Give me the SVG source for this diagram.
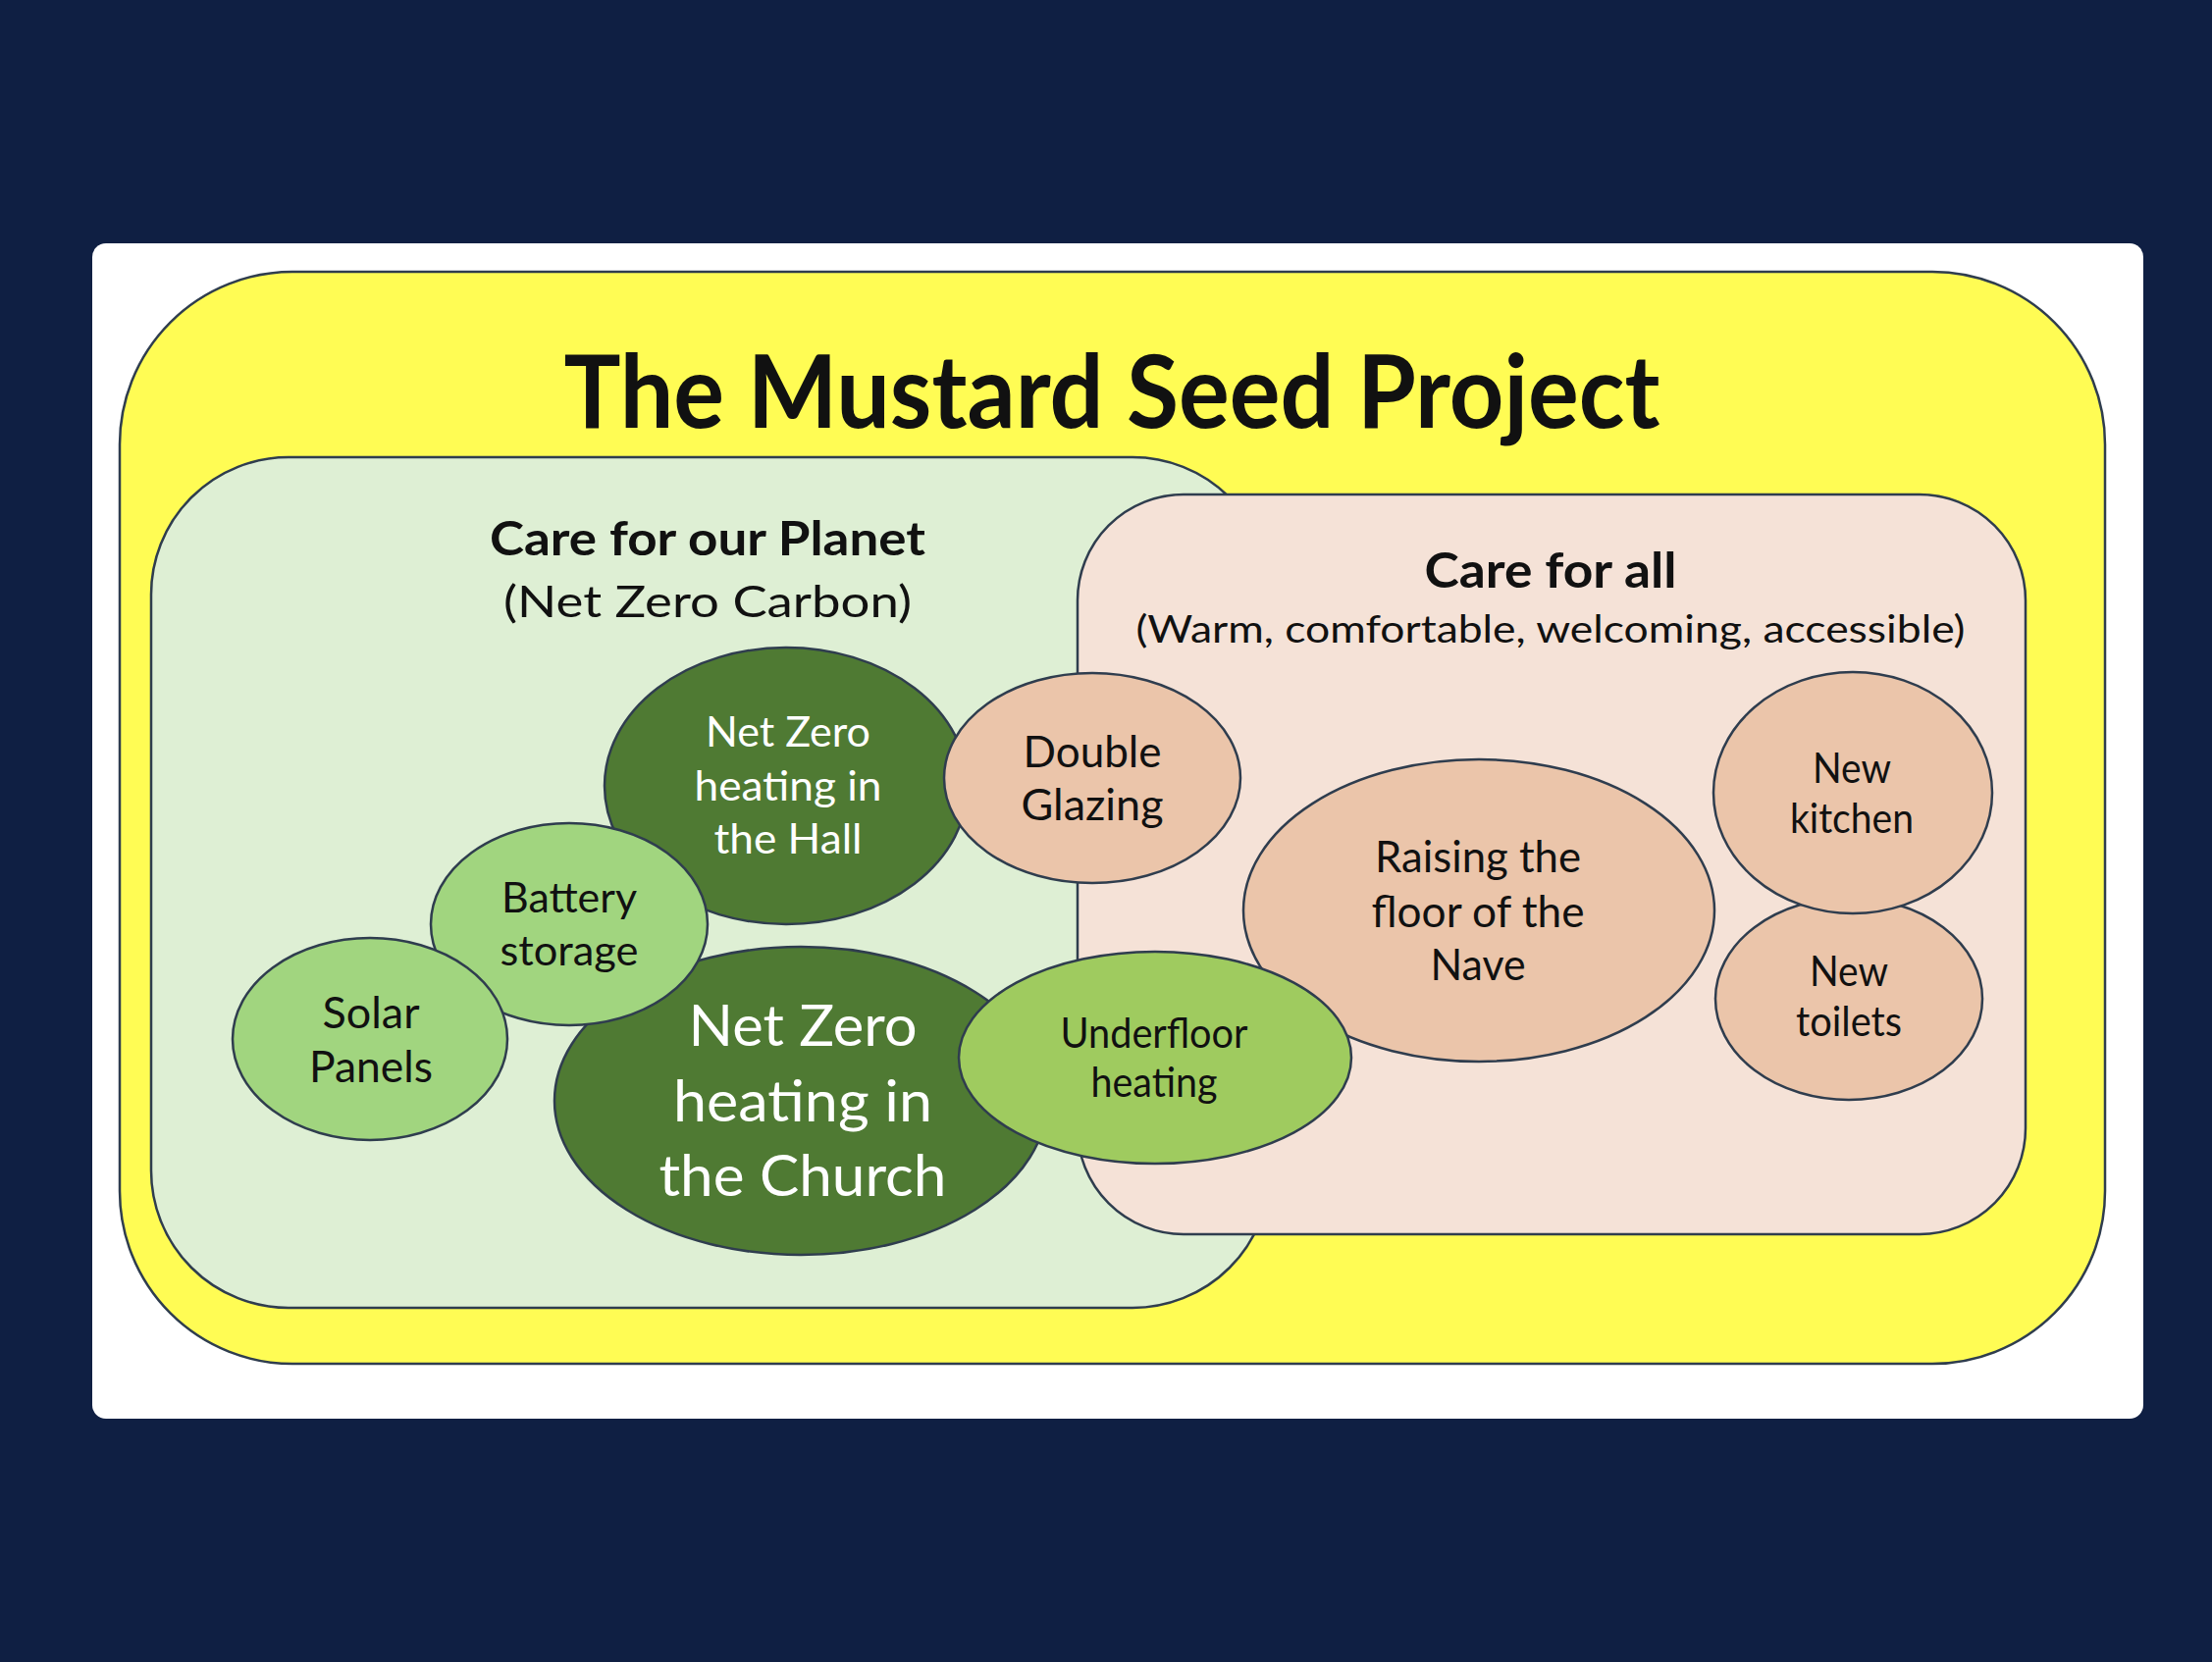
<svg xmlns="http://www.w3.org/2000/svg" width="2254" height="1694" viewBox="0 0 2254 1694">
<defs>
<style>
.st{stroke:#2f3d4e;stroke-width:2.5}
.t{font-family:Lato,"Liberation Sans",sans-serif;text-anchor:middle}
.b{font-weight:bold}
.dk{fill:#111}
.wh{fill:#ffffff}
.dg{fill:#4f7a33}
.lg{fill:#a1d57f}
.pe{fill:#ebc5aa}
</style>
</defs>
<rect x="0" y="0" width="2254" height="1694" fill="#0f1f43"/>
<rect x="94" y="248" width="2090" height="1198" rx="14" fill="#ffffff"/>
<g id="project">
<rect class="st" x="122" y="277" width="2023" height="1113" rx="176" fill="#fffc54"/>
<text class="t b dk" x="1133" y="436" font-size="104" textLength="1117" lengthAdjust="spacingAndGlyphs">The Mustard Seed Project</text>
</g>
<g id="planet">
<rect class="st" x="154" y="466" width="1140" height="867" rx="140" fill="#deefd4"/>
<text class="t b dk" x="721" y="566" font-size="48" textLength="444" lengthAdjust="spacingAndGlyphs">Care for our Planet</text>
<text class="t dk" x="721" y="629" font-size="44" textLength="416" lengthAdjust="spacingAndGlyphs">(Net Zero Carbon)</text>
</g>
<g id="careall">
<rect class="st" x="1098" y="504" width="966" height="754" rx="108" fill="#f5e2d7"/>
<text class="t b dk" x="1580" y="599" font-size="50" textLength="257" lengthAdjust="spacingAndGlyphs">Care for all</text>
<text class="t dk" x="1580" y="655" font-size="38" textLength="845" lengthAdjust="spacingAndGlyphs">(Warm, comfortable, welcoming, accessible)</text>
</g>
<g id="connectors"/>
<g id="hall">
<ellipse class="st dg" cx="801" cy="801" rx="185" ry="141"/>
<text class="t wh" font-size="42"><tspan x="803" y="761" textLength="168" lengthAdjust="spacingAndGlyphs">Net Zero</tspan><tspan x="803" y="816" textLength="191" lengthAdjust="spacingAndGlyphs">heating in</tspan><tspan x="803" y="870" textLength="151" lengthAdjust="spacingAndGlyphs">the Hall</tspan></text>
</g>
<g id="church">
<ellipse class="st dg" cx="816" cy="1122" rx="251" ry="157"/>
<text class="t wh" font-size="58"><tspan x="818" y="1066" textLength="233" lengthAdjust="spacingAndGlyphs">Net Zero</tspan><tspan x="818" y="1143" textLength="264" lengthAdjust="spacingAndGlyphs">heating in</tspan><tspan x="818" y="1219" textLength="293" lengthAdjust="spacingAndGlyphs">the Church</tspan></text>
</g>
<g id="battery">
<ellipse class="st lg" cx="580" cy="942" rx="141" ry="103"/>
<text class="t dk" font-size="42"><tspan x="580" y="930" textLength="138" lengthAdjust="spacingAndGlyphs">Battery</tspan><tspan x="580" y="984" textLength="141" lengthAdjust="spacingAndGlyphs">storage</tspan></text>
</g>
<g id="solar">
<ellipse class="st lg" cx="377" cy="1059" rx="140" ry="103"/>
<text class="t dk" font-size="44"><tspan x="378" y="1048" textLength="99" lengthAdjust="spacingAndGlyphs">Solar</tspan><tspan x="378" y="1103" textLength="126" lengthAdjust="spacingAndGlyphs">Panels</tspan></text>
</g>
<g id="glazing">
<ellipse class="st pe" cx="1113" cy="793" rx="151" ry="107"/>
<text class="t dk" font-size="44"><tspan x="1113" y="782" textLength="141" lengthAdjust="spacingAndGlyphs">Double</tspan><tspan x="1113" y="836" textLength="145" lengthAdjust="spacingAndGlyphs">Glazing</tspan></text>
</g>
<g id="nave">
<ellipse class="st pe" cx="1507" cy="928" rx="240" ry="154"/>
<text class="t dk" font-size="44"><tspan x="1506" y="889" textLength="210" lengthAdjust="spacingAndGlyphs">Raising the</tspan><tspan x="1506" y="945" textLength="217" lengthAdjust="spacingAndGlyphs">floor of the</tspan><tspan x="1506" y="999" textLength="97" lengthAdjust="spacingAndGlyphs">Nave</tspan></text>
</g>
<g id="underfloor">
<ellipse class="st" cx="1177" cy="1078" rx="200" ry="108" fill="#9fcb5f"/>
<text class="t dk" font-size="42"><tspan x="1176" y="1068" textLength="191" lengthAdjust="spacingAndGlyphs">Underfloor</tspan><tspan x="1176" y="1118" textLength="129" lengthAdjust="spacingAndGlyphs">heating</tspan></text>
</g>
<g id="toilets">
<ellipse class="st pe" cx="1884" cy="1018" rx="136" ry="103"/>
<text class="t dk" font-size="42"><tspan x="1884" y="1005" textLength="80" lengthAdjust="spacingAndGlyphs">New</tspan><tspan x="1884" y="1056" textLength="108" lengthAdjust="spacingAndGlyphs">toilets</tspan></text>
</g>
<g id="kitchen">
<ellipse class="st pe" cx="1888" cy="808" rx="142" ry="123"/>
<text class="t dk" font-size="42"><tspan x="1887" y="798" textLength="80" lengthAdjust="spacingAndGlyphs">New</tspan><tspan x="1887" y="849" textLength="126" lengthAdjust="spacingAndGlyphs">kitchen</tspan></text>
</g>
</svg>
